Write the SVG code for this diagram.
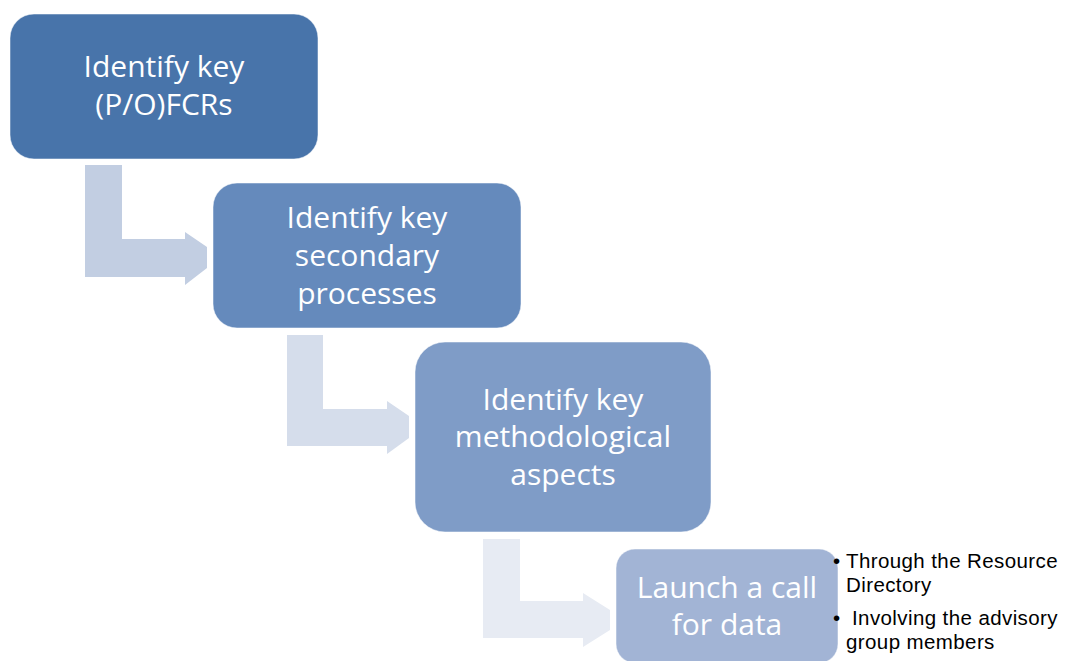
<svg xmlns="http://www.w3.org/2000/svg" width="1066" height="661" viewBox="0 0 1066 661">
  <style>
    .box { stroke: #ffffff; stroke-opacity: 0.5; stroke-width: 1; }
    .lbl { font-family: "Open Sans", "Liberation Sans", sans-serif; font-size: 30px; fill: #ffffff; text-anchor: middle; }
    .bul { font-family: "Liberation Sans", Arial, sans-serif; font-size: 20.5px; letter-spacing: 0.4px; fill: #000000; }
  </style>
  <rect width="1066" height="661" fill="#ffffff"/>
  <g id="connectors">
    <polygon fill="#C2CEE2" points="85,165 122,165 122,239 185,239 185,232 207,247 207,268 185,285 185,277 85,277"/>
    <polygon fill="#D5DDEB" points="287,335 323,335 323,409 387,409 387,401 409,416 409,438 387,454 387,446 287,446"/>
    <polygon fill="#E7EBF3" points="483,539 520,539 520,601 583,601 583,593 610,610 610,630 583,647 583,638 483,638"/>
  </g>
  <g id="node1">
    <rect class="box" x="10" y="14" width="308" height="145" rx="24" ry="24" fill="#4874AA"/>
    <text class="lbl" x="164" y="77">Identify key</text>
    <text class="lbl" x="164" y="115">(P/O)FCRs</text>
  </g>
  <g id="node2">
    <rect class="box" x="213" y="183" width="308" height="145" rx="24" ry="24" fill="#658ABC"/>
    <text class="lbl" x="367" y="228">Identify key</text>
    <text class="lbl" x="367" y="266">secondary</text>
    <text class="lbl" x="367" y="304">processes</text>
  </g>
  <g id="node3">
    <rect class="box" x="415" y="342" width="296" height="190" rx="30" ry="30" fill="#7F9CC7"/>
    <text class="lbl" x="563" y="410">Identify key</text>
    <text class="lbl" x="563" y="447">methodological</text>
    <text class="lbl" x="563" y="485">aspects</text>
  </g>
  <g id="node4">
    <rect class="box" x="616" y="549" width="222" height="114" rx="19" ry="19" fill="#A2B4D5"/>
    <text class="lbl" x="727" y="598">Launch a call</text>
    <text class="lbl" x="727" y="635">for data</text>
  </g>
  <g id="node4-bullets">
    <text class="bul" x="833" y="568">•<tspan x="846">Through the Resource</tspan></text>
    <text class="bul" x="846" y="592">Directory</text>
    <text class="bul" x="833" y="625">•<tspan x="852">Involving the advisory</tspan></text>
    <text class="bul" x="846" y="649">group members</text>
  </g>
</svg>
